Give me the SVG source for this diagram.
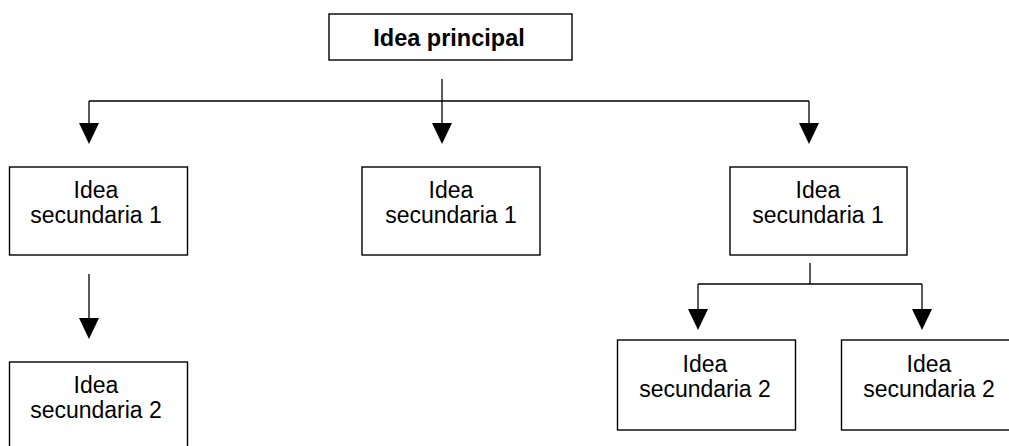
<svg xmlns="http://www.w3.org/2000/svg" width="1009" height="446" viewBox="0 0 1009 446">
<style>
.box{fill:#fff;stroke:#000;stroke-width:1.4}
.t{font-family:"Liberation Sans",Arial,sans-serif;font-size:23px;fill:#000;text-anchor:middle}
.b{font-weight:bold;font-size:23.5px}
.c{fill:none;stroke:#000;stroke-width:1.3}
</style>
<defs>
<marker id="ah" markerUnits="userSpaceOnUse" markerWidth="21" markerHeight="20" refX="0" refY="10" orient="auto" viewBox="0 0 21 20">
<path d="M0,0 L21,10 L0,20 z" fill="#000"/>
</marker>
</defs>
<rect width="1009" height="446" fill="#fff"/>
<g id="connectors">
<path class="c" d="M442,79 V123" marker-end="url(#ah)"/>
<path class="c" d="M89,101 H809"/>
<path class="c" d="M89,101 V123" marker-end="url(#ah)"/>
<path class="c" d="M809,101 V123" marker-end="url(#ah)"/>
<path class="c" d="M89,274 V318" marker-end="url(#ah)"/>
<path class="c" d="M810,263 V284"/>
<path class="c" d="M698,284 H922"/>
<path class="c" d="M698,284 V309" marker-end="url(#ah)"/>
<path class="c" d="M922,284 V309" marker-end="url(#ah)"/>
</g>
<g id="n-top">
<rect class="box" x="329" y="14" width="243" height="46"/>
<text class="t b" x="449" y="46">Idea principal</text>
</g>
<g id="n-l1">
<rect class="box" x="9.5" y="167" width="178" height="88"/>
<text class="t" x="96" y="198">Idea</text>
<text class="t" x="96" y="223">secundaria 1</text>
</g>
<g id="n-m1">
<rect class="box" x="362" y="167" width="178" height="88"/>
<text class="t" x="451" y="198">Idea</text>
<text class="t" x="451" y="223">secundaria 1</text>
</g>
<g id="n-r1">
<rect class="box" x="730" y="167" width="177" height="88"/>
<text class="t" x="818" y="198">Idea</text>
<text class="t" x="818" y="223">secundaria 1</text>
</g>
<g id="n-l2">
<rect class="box" x="9.5" y="362" width="178" height="90"/>
<text class="t" x="96" y="393">Idea</text>
<text class="t" x="96" y="418">secundaria 2</text>
</g>
<g id="n-r2a">
<rect class="box" x="617.5" y="340" width="178" height="90"/>
<text class="t" x="705" y="372">Idea</text>
<text class="t" x="705" y="397">secundaria 2</text>
</g>
<g id="n-r2b">
<rect class="box" x="841.5" y="340" width="178" height="90"/>
<text class="t" x="929" y="372">Idea</text>
<text class="t" x="929" y="397">secundaria 2</text>
</g>
</svg>
